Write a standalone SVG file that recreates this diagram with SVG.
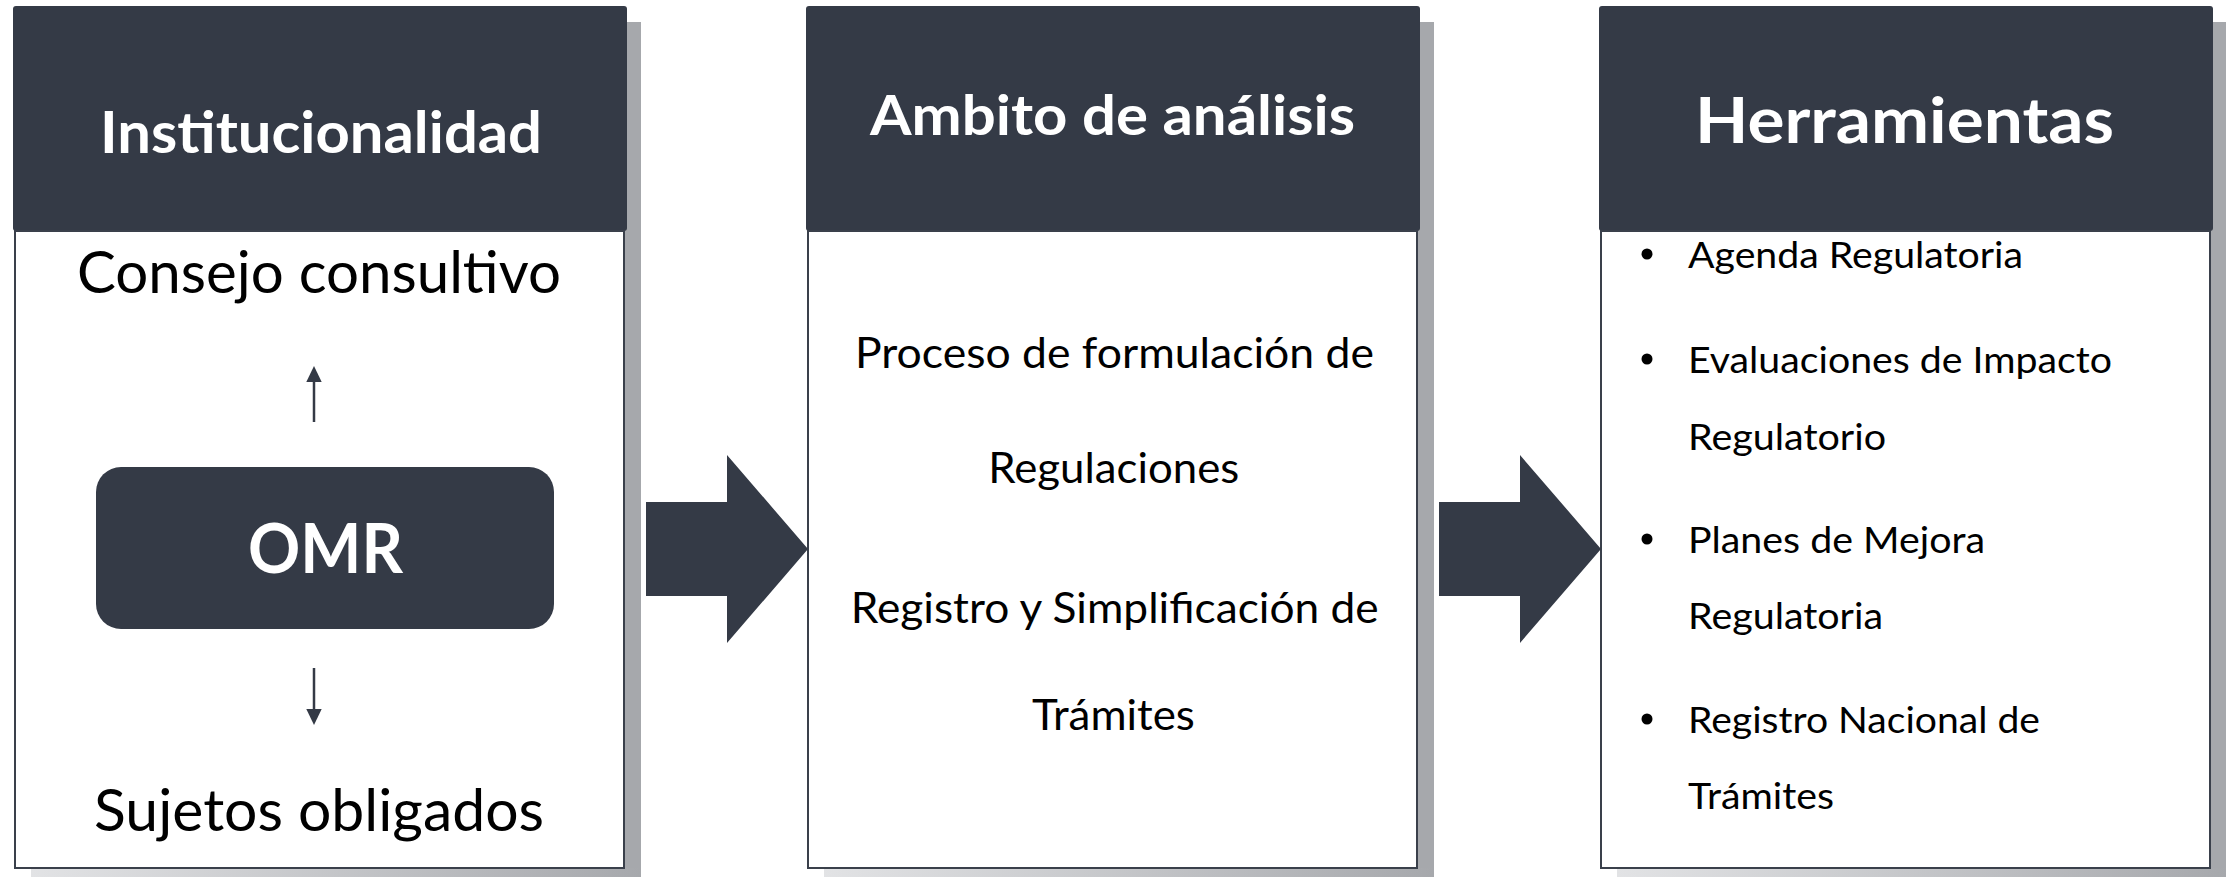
<svg xmlns="http://www.w3.org/2000/svg" width="2226" height="877" viewBox="0 0 2226 877">
<defs>
<style>
.shadow{fill:#a6a8ac}
.head{fill:#343a46}
.body{fill:#ffffff;stroke:#3a404b;stroke-width:2}
.dark{fill:#343a46}
.bullet{fill:#000000}
.t{font-family:Lato,'Open Sans','Liberation Sans',sans-serif;fill:#000000}
.h{font-family:Lato,'Open Sans','Liberation Sans',sans-serif;fill:#ffffff;font-weight:700}
.c{text-anchor:middle}
.line{stroke:#343a46;stroke-width:2.5;fill:none}
</style>
<linearGradient id="shb" x1="0" y1="0" x2="1" y2="0">
<stop offset="0" stop-color="#e2e3e5"/>
<stop offset="1" stop-color="#a6a8ac"/>
</linearGradient>
</defs>
<rect width="2226" height="877" fill="#ffffff"/>

<g id="panel-institucionalidad">
<rect class="shadow" x="29" y="22" width="612" height="846"/>
<rect x="31" y="868" width="610" height="9" fill="url(#shb)"/>
<rect class="head" x="13" y="6" width="614" height="225" rx="3"/>
<rect class="body" x="15" y="231" width="609" height="637"/>
<text class="h c" x="321" y="153" font-size="57" textLength="442" lengthAdjust="spacingAndGlyphs">Institucionalidad</text>
<text class="t c" x="319" y="293" font-size="58" textLength="484" lengthAdjust="spacingAndGlyphs">Consejo consultivo</text>
<text class="t c" x="319" y="831" font-size="58" textLength="450" lengthAdjust="spacingAndGlyphs">Sujetos obligados</text>
</g>

<g id="node-omr">
<rect class="dark" x="96" y="467" width="458" height="162" rx="25"/>
<text class="h c" x="325.5" y="573" font-size="68" textLength="155" lengthAdjust="spacingAndGlyphs">OMR</text>
</g>

<g id="panel-ambito">
<rect class="shadow" x="822" y="22" width="612" height="846"/>
<rect x="824" y="868" width="610" height="9" fill="url(#shb)"/>
<rect class="head" x="806" y="6" width="614" height="225" rx="3"/>
<rect class="body" x="808" y="231" width="609" height="637"/>
<text class="h c" x="1112.5" y="135" font-size="56" textLength="485" lengthAdjust="spacingAndGlyphs">Ambito de análisis</text>
<text class="t c" x="1114.5" y="368" font-size="42" textLength="519" lengthAdjust="spacingAndGlyphs">Proceso de formulación de</text>
<text class="t c" x="1113.7" y="483" font-size="42" textLength="251" lengthAdjust="spacingAndGlyphs">Regulaciones</text>
<text class="t c" x="1114.7" y="623" font-size="42" textLength="528" lengthAdjust="spacingAndGlyphs">Registro y Simplificación de</text>
<text class="t c" x="1113.4" y="730" font-size="42" textLength="163" lengthAdjust="spacingAndGlyphs">Trámites</text>
</g>

<g id="panel-herramientas">
<rect class="shadow" x="1615" y="22" width="612" height="846"/>
<rect x="1617" y="868" width="610" height="9" fill="url(#shb)"/>
<rect class="head" x="1599" y="6" width="614" height="225" rx="3"/>
<rect class="body" x="1601" y="231" width="609" height="637"/>
<text class="h c" x="1904.5" y="143" font-size="64" textLength="419" lengthAdjust="spacingAndGlyphs">Herramientas</text>
<circle class="bullet" cx="1647" cy="254" r="5.5"/>
<circle class="bullet" cx="1647" cy="359" r="5.5"/>
<circle class="bullet" cx="1647" cy="539" r="5.5"/>
<circle class="bullet" cx="1647" cy="719" r="5.5"/>
<text class="t" x="1688" y="268" font-size="37" textLength="335" lengthAdjust="spacingAndGlyphs">Agenda Regulatoria</text>
<text class="t" x="1688" y="373" font-size="37" textLength="424" lengthAdjust="spacingAndGlyphs">Evaluaciones de Impacto</text>
<text class="t" x="1688" y="450" font-size="37" textLength="198" lengthAdjust="spacingAndGlyphs">Regulatorio</text>
<text class="t" x="1688" y="553" font-size="37" textLength="297" lengthAdjust="spacingAndGlyphs">Planes de Mejora</text>
<text class="t" x="1688" y="629" font-size="37" textLength="195" lengthAdjust="spacingAndGlyphs">Regulatoria</text>
<text class="t" x="1688" y="733" font-size="37" textLength="352" lengthAdjust="spacingAndGlyphs">Registro Nacional de</text>
<text class="t" x="1688" y="809" font-size="37" textLength="146" lengthAdjust="spacingAndGlyphs">Trámites</text>
</g>

<g id="connectors">
<path class="dark" d="M646,502 H727 V455 L808,549 L727,643 V596 H646 Z"/>
<path class="dark" d="M1439,502 H1520 V455 L1601,549 L1520,643 V596 H1439 Z"/>
<line class="line" x1="314" y1="422" x2="314" y2="380"/>
<path class="dark" d="M314,366 L321.7,382 L306.3,382 Z"/>
<line class="line" x1="314" y1="668" x2="314" y2="711"/>
<path class="dark" d="M314,725 L321.7,709 L306.3,709 Z"/>
</g>
</svg>
